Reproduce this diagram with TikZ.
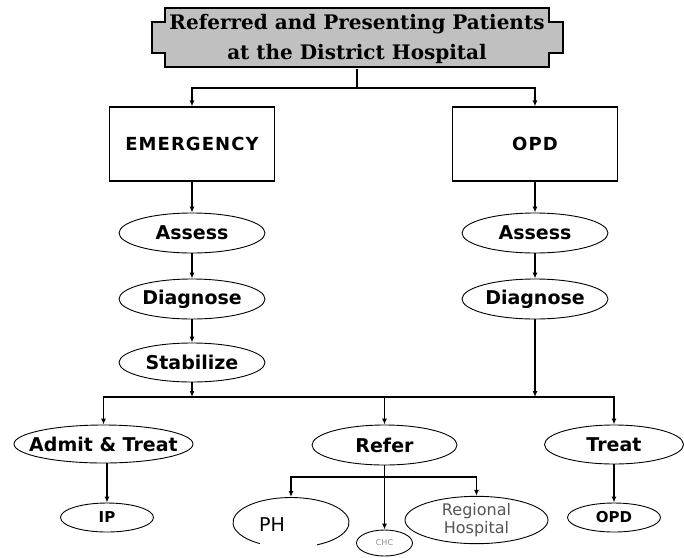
\documentclass[tikz,border=0pt]{standalone}
\usepackage{fontspec}
\setmainfont{DejaVu Sans}
\newfontfamily\bannerfont{DejaVu Serif}
\usetikzlibrary{arrows.meta,shapes.geometric,calc}
\definecolor{banner}{HTML}{C0C0C0}
\definecolor{faded}{HTML}{555555}
\definecolor{pale}{HTML}{8C8C8C}
\tikzset{
  unitbox/.style={
    draw, line width=1.2pt, minimum width=165pt, minimum height=74pt,
    font=\fontsize{18}{20}\selectfont\bfseries\addfontfeatures{LetterSpace=6}
  },
  stage/.style={
    ellipse, draw, line width=0.9pt, inner sep=0pt,
    minimum width=146pt, minimum height=40pt,
    font=\fontsize{19}{21}\selectfont\bfseries
  },
  small/.style={
    ellipse, draw, line width=0.9pt, inner sep=0pt,
    minimum width=93pt, minimum height=29pt,
    font=\fontsize{15}{17}\selectfont\bfseries
  },
  arrow/.style={-{Latex[length=6pt,width=5pt]}, line width=1.8pt},
  bus/.style={line width=1.4pt},
  thinarr/.style={-{Latex[length=6pt,width=5pt]}, line width=1.2pt}
}

\begin{document}
\begin{tikzpicture}[x=1pt,y=-1pt]
    \useasboundingbox (0,0) rectangle (684,557);
    % banner
    \draw[fill=banner, line width=1.4pt] (165,8) -- (549,8) -- (549,22) -- (563,22) -- (563,53)
      -- (549,53) -- (549,67) -- (165,67) -- (165,53) -- (152,53) -- (152,22) -- (165,22) -- cycle;
    \node[inner sep=0pt, minimum width=384pt, minimum height=59pt, align=center,
      font=\bannerfont\fontsize{20}{30}\selectfont\bfseries] (top) at (357,39)
      {Referred and Presenting Patients\\at the District Hospital};
    \node[unitbox] (emerg) at (192,144) {EMERGENCY};
    \node[unitbox] (opd) at (535,144) {OPD};
    \node[stage] (eassess) at (192,233) {Assess};
    \node[stage] (ediag) at (192,299) {Diagnose};
    \node[stage, minimum height=39pt] (estab) at (192,362.5) {Stabilize};
    \node[stage] (oassess) at (535,233) {Assess};
    \node[stage] (odiag) at (535,299) {Diagnose};
    \node[stage, minimum width=179pt, minimum height=38pt, inner xsep=-14pt] (admit) at (103.5,444) {Admit \& Treat};
    \node[stage, minimum width=145pt] (refer) at (384.5,445) {Refer};
    \node[stage, minimum width=139pt, minimum height=39pt] (treat) at (614,444.5) {Treat};
    \node[small] (ip) at (107,517.5) {IP};
    \node[small] (opdout) at (614,517.5) {OPD};
    \node[font=\fontsize{19}{21}\selectfont] (ph) at (272,525) {PH};
    \node[ellipse, draw, line width=0.9pt, inner sep=0pt, minimum width=56pt, minimum height=26pt,
      text=pale, font=\fontsize{8}{9}\selectfont] (chc) at (384.5,543) {CHC};
    \node[ellipse, draw, line width=0.9pt, inner sep=0pt, minimum width=143pt, minimum height=46pt,
      align=center, text=faded, font=\fontsize{16}{18}\selectfont] (regional) at (476.5,520)
      {Regional\\Hospital};
    % open outline round PH
    \coordinate (phc) at (291,522.5);
    \coordinate (phtop) at (291,497);
    \draw[line width=0.9pt] ([shift={(296.6:58pt and 25pt)}]phc)
      arc[start angle=296.6, end angle=597.7, x radius=58pt, y radius=25pt];
    % connectors
    \draw[bus] (top.south) -- (357,88) coordinate (tj);
    \draw[arrow, line width=1.4pt] (tj) -| (emerg);
    \draw[arrow, line width=1.4pt] (tj) -| (opd);
    \draw[arrow] (emerg) -- (eassess);
    \draw[arrow] (eassess) -- (ediag);
    \draw[arrow] (ediag) -- (estab);
    \draw[arrow] (opd) -- (oassess);
    \draw[arrow] (oassess) -- (odiag);
    \coordinate (busl) at (192,397);
    \coordinate (busr) at (535,397);
    \draw[arrow] (estab) -- (busl);
    \draw[arrow] (odiag) -- (busr);
    \draw[bus] (busl) -- (busr);
    \draw[arrow, line width=1.4pt] (busl) -| (admit);
    \draw[arrow, line width=1.4pt] (busr) -| (treat);
    \draw[arrow, line width=1.4pt] (refer |- busl) -- (refer);
    \draw[arrow] (admit.south -| ip) -- (ip);
    \draw[thinarr] (treat) -- (opdout);
    \coordinate (split) at (384.5,477);
    \draw[thinarr] (split) -| (phtop);
    \draw[thinarr] (split) -| (regional);
    \draw[thinarr] (refer) -- (chc);
\end{tikzpicture}
\end{document}
